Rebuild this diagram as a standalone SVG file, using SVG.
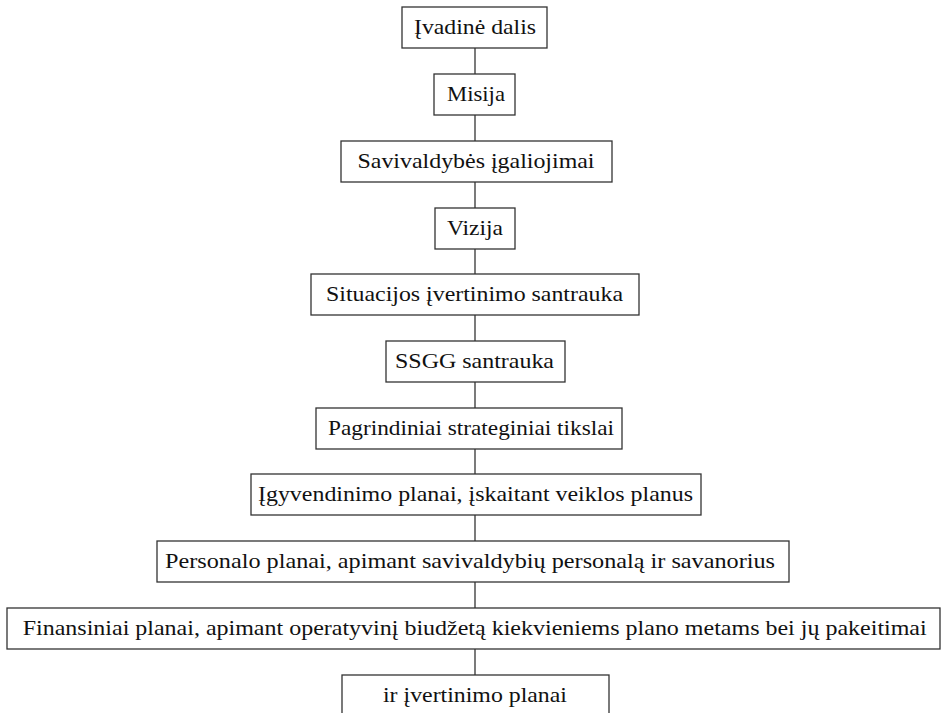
<svg xmlns="http://www.w3.org/2000/svg" width="942" height="713" viewBox="0 0 942 713">
<style>
.box{fill:#fff;stroke:#333;stroke-width:1.3}
.lbl{font-family:"Liberation Serif","Times New Roman",serif;font-size:22px;fill:#111;text-anchor:middle}
.con line{stroke:#222;stroke-width:1.2}
</style>
<rect width="942" height="713" fill="#fff"/>
<g class="con" id="connectors">
<line x1="475" y1="48" x2="475" y2="74"/>
<line x1="475" y1="115" x2="475" y2="141"/>
<line x1="475" y1="182" x2="475" y2="208"/>
<line x1="475" y1="249" x2="475" y2="274"/>
<line x1="475" y1="315" x2="475" y2="341"/>
<line x1="475" y1="382" x2="475" y2="408"/>
<line x1="475" y1="449" x2="475" y2="474"/>
<line x1="475" y1="515" x2="475" y2="541"/>
<line x1="475" y1="582" x2="475" y2="608"/>
<line x1="475" y1="649" x2="475" y2="675"/>
</g>
<g id="n1"><rect class="box" x="402" y="7" width="145" height="41"/><text class="lbl" x="475" y="34" textLength="122" lengthAdjust="spacingAndGlyphs">Įvadinė dalis</text></g>
<g id="n2"><rect class="box" x="434" y="74" width="81" height="41"/><text class="lbl" x="476" y="101" textLength="58" lengthAdjust="spacingAndGlyphs">Misija</text></g>
<g id="n3"><rect class="box" x="341" y="141" width="271" height="41"/><text class="lbl" x="476" y="168" textLength="237" lengthAdjust="spacingAndGlyphs">Savivaldybės įgaliojimai</text></g>
<g id="n4"><rect class="box" x="435" y="208" width="80" height="41"/><text class="lbl" x="475" y="235" textLength="56" lengthAdjust="spacingAndGlyphs">Vizija</text></g>
<g id="n5"><rect class="box" x="311" y="274" width="328" height="41"/><text class="lbl" x="474.5" y="301" textLength="297" lengthAdjust="spacingAndGlyphs">Situacijos įvertinimo santrauka</text></g>
<g id="n6"><rect class="box" x="386" y="341" width="179" height="41"/><text class="lbl" x="474.5" y="368" textLength="159" lengthAdjust="spacingAndGlyphs">SSGG santrauka</text></g>
<g id="n7"><rect class="box" x="316" y="408" width="306" height="41"/><text class="lbl" x="471" y="435" textLength="286" lengthAdjust="spacingAndGlyphs">Pagrindiniai strateginiai tikslai</text></g>
<g id="n8"><rect class="box" x="251" y="474" width="450" height="41"/><text class="lbl" x="475.5" y="501" textLength="435" lengthAdjust="spacingAndGlyphs">Įgyvendinimo planai, įskaitant veiklos planus</text></g>
<g id="n9"><rect class="box" x="157" y="541" width="632" height="41"/><text class="lbl" x="470" y="568" textLength="610" lengthAdjust="spacingAndGlyphs">Personalo planai, apimant savivaldybių personalą ir savanorius</text></g>
<g id="n10"><rect class="box" x="7" y="608" width="933" height="41"/><text class="lbl" x="474.7" y="635" textLength="904" lengthAdjust="spacingAndGlyphs">Finansiniai planai, apimant operatyvinį biudžetą kiekvieniems plano metams bei jų pakeitimai</text></g>
<g id="n11"><rect class="box" x="342" y="675" width="267" height="41"/><text class="lbl" x="475" y="702" textLength="184" lengthAdjust="spacingAndGlyphs">ir įvertinimo planai</text></g>
</svg>
